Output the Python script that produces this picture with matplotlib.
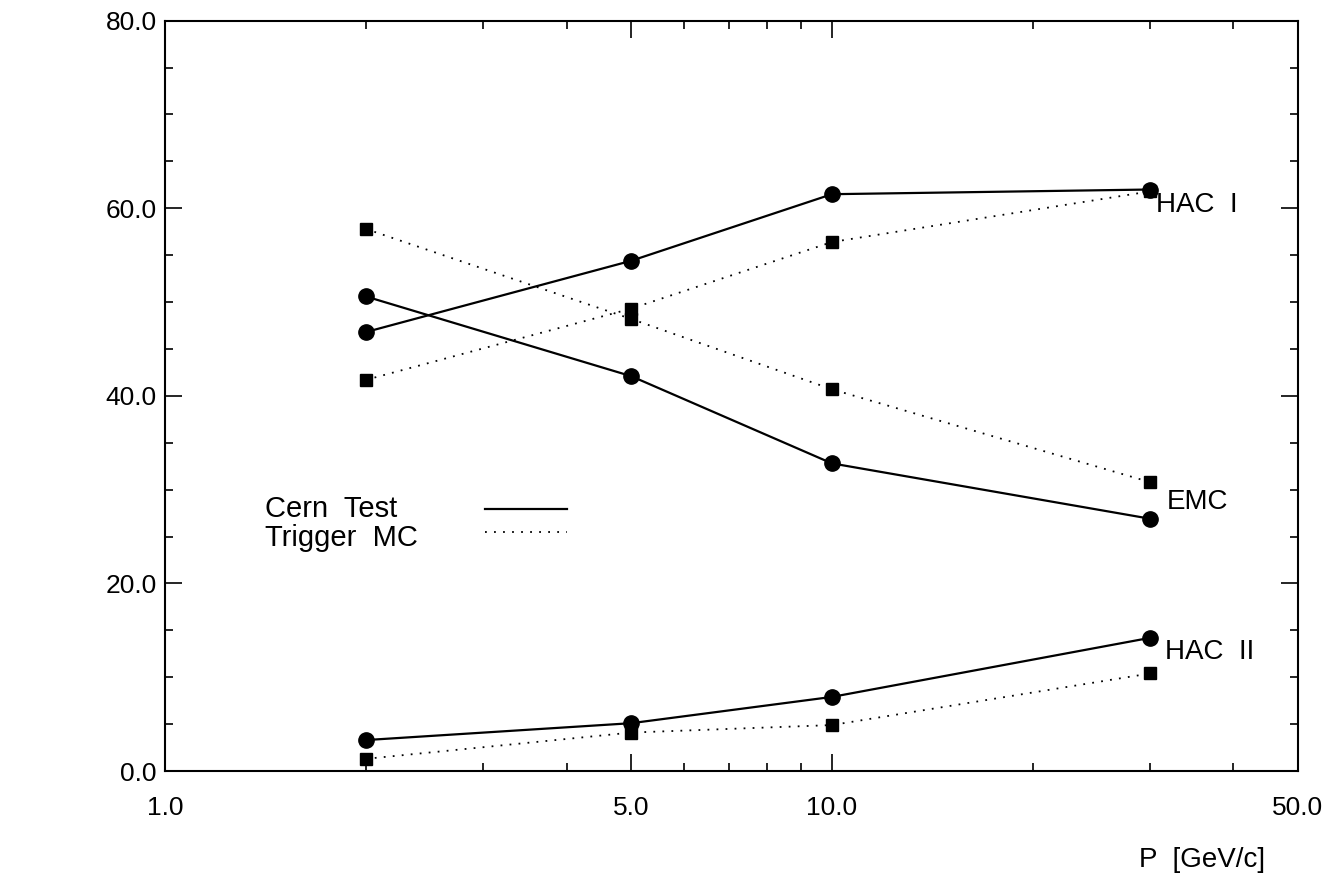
import matplotlib
matplotlib.use("Agg")
import matplotlib.pyplot as plt
from matplotlib.ticker import FixedLocator, FixedFormatter, MultipleLocator, NullFormatter

plt.rcParams["font.family"] = ["Liberation Sans", "DejaVu Sans"]

# momentum points [GeV/c]
p = [2.0, 5.0, 10.0, 30.0]

# energy fractions (%) per calorimeter section
hac1_cern = [46.8, 54.4, 61.5, 62.0]
hac1_mc = [41.7, 49.3, 56.4, 61.8]
emc_cern = [50.6, 42.1, 32.8, 26.9]
emc_mc = [57.8, 48.2, 40.7, 30.8]
hac2_cern = [3.3, 5.1, 7.9, 14.2]
hac2_mc = [1.3, 4.1, 4.9, 10.4]

xticks = [1.0, 5.0, 10.0, 50.0]
xlabels = ["1.0", "5.0", "10.0", "50.0"]
yticks = [0.0, 20.0, 40.0, 60.0, 80.0]
ylabels = ["0.0", "20.0", "40.0", "60.0", "80.0"]

fig = plt.figure(figsize=(13.43, 8.84), dpi=100)
ax = fig.add_axes([0.1229, 0.1278, 0.8436, 0.8488])

solid = dict(color="black", lw=1.6, ls="-", marker="o", ms=11)
dotted = dict(color="black", lw=1.3, ls=(0, (1, 4)), marker="s", ms=8.5)

ax.plot(p, hac1_cern, **solid)
ax.plot(p, hac1_mc, **dotted)
ax.plot(p, emc_cern, **solid)
ax.plot(p, emc_mc, **dotted)
ax.plot(p, hac2_cern, **solid)
ax.plot(p, hac2_mc, **dotted)

ax.set_xscale("log")
ax.set_xlim(1.0, 50.0)
ax.set_ylim(0.0, 80.0)

ax.xaxis.set_major_locator(FixedLocator(xticks))
ax.xaxis.set_major_formatter(FixedFormatter(xlabels))
ax.xaxis.set_minor_locator(FixedLocator([2, 3, 4, 6, 7, 8, 9, 20, 30, 40]))
ax.xaxis.set_minor_formatter(NullFormatter())
ax.yaxis.set_major_locator(FixedLocator(yticks))
ax.yaxis.set_major_formatter(FixedFormatter(ylabels))
ax.yaxis.set_minor_locator(MultipleLocator(5))

ax.tick_params(which="both", direction="in", top=True, right=True,
               width=1.2, labelsize=19)
ax.tick_params(which="major", length=12)
ax.tick_params(which="minor", length=6)
ax.tick_params(axis="x", which="major", pad=18)
ax.tick_params(axis="y", which="major", pad=6)
for s in ax.spines.values():
    s.set_linewidth(1.5)

# section labels next to the last point
ax.annotate("HAC  I", (p[-1], hac1_cern[-1]), xytext=(4, -11),
            textcoords="offset points", fontsize=20, va="center", ha="left")
ax.annotate("EMC", (p[-1], emc_cern[-1]), xytext=(12, 12),
            textcoords="offset points", fontsize=20, va="center", ha="left")
ax.annotate("HAC  II", (p[-1], hac2_cern[-1]), xytext=(11, -10),
            textcoords="offset points", fontsize=20, va="center", ha="left")

# hand-made legend
ax.text(0.088, 0.349, "Cern  Test", transform=ax.transAxes, fontsize=21, va="center")
ax.text(0.088, 0.310, "Trigger  MC", transform=ax.transAxes, fontsize=21, va="center")
ax.plot([0.282, 0.355], [0.349, 0.349], transform=ax.transAxes, color="black", lw=1.6)
ax.plot([0.282, 0.355], [0.318, 0.318], transform=ax.transAxes, color="black",
        lw=1.3, ls=(0, (1, 4)))

fig.text(1265 / 1343, 1 - 860 / 884, "P  [GeV/c]", fontsize=20, ha="right", va="center")

fig.savefig("out.png", dpi=100)
